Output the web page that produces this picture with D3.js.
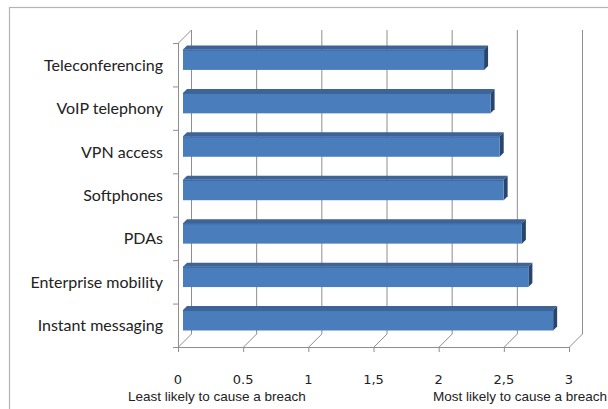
<!DOCTYPE html>
<html>
<head>
<meta charset="utf-8">
<script src="https://cdn.jsdelivr.net/npm/d3@7/dist/d3.min.js"></script>
<style>
  html, body { margin: 0; padding: 0; background: #fff; }
  svg { display: block; }
</style>
</head>
<body>
<svg id="chart" width="608" height="409"></svg>
<script>
// ---- data ----
const categories = ["Teleconferencing", "VoIP telephony", "VPN access", "Softphones", "PDAs", "Enterprise mobility", "Instant messaging"];
const values = [2.31, 2.36, 2.43, 2.46, 2.60, 2.65, 2.84];
const tickValues = [0, 0.5, 1, 1.5, 2, 2.5, 3];
const tickLabels = ["0", "0.5", "1", "1,5", "2", "2,5", "3"];
const axisNotes = ["Least likely to cause a breach", "Most likely to cause a breach"];

// ---- layout ----
const svg = d3.select("#chart");
const ox = 178, oy = 347;      // front-bottom-left corner of plot
const plotW = 391, plotH = 304;
const depth = 13;              // 3D depth offset (x right, y up)

const x = d3.scaleLinear().domain([0, 3]).range([0, plotW]);
const y = d3.scaleBand().domain(categories).range([oy - plotH, oy]).paddingInner(0).paddingOuter(0);

// chart border
svg.append("rect").attr("x", 9.5).attr("y", 7.5).attr("width", 640).attr("height", 440)
  .attr("fill", "#fff").attr("stroke", "#b4b4b4").attr("stroke-width", 1.2);

const gridColor = "#8e8e8e";
const g = svg.append("g");

// back wall vertical gridlines
g.selectAll("line.grid").data(tickValues).join("line")
  .attr("class", "grid")
  .attr("x1", d => ox + depth + x(d) + 0.5).attr("x2", d => ox + depth + x(d) + 0.5)
  .attr("y1", oy - plotH - depth).attr("y2", oy - depth)
  .attr("stroke", gridColor).attr("stroke-width", 1);

// floor diagonals
g.selectAll("line.floor").data(tickValues).join("line")
  .attr("x1", d => ox + x(d) + 0.5).attr("y1", oy)
  .attr("x2", d => ox + depth + x(d) + 0.5).attr("y2", oy - depth)
  .attr("stroke", gridColor).attr("stroke-width", 1);

// left wall: front vertical + top diagonal
g.append("line").attr("x1", ox + 0.5).attr("x2", ox + 0.5).attr("y1", oy - plotH).attr("y2", oy)
  .attr("stroke", gridColor);
g.append("line").attr("x1", ox + 0.5).attr("y1", oy - plotH)
  .attr("x2", ox + depth + 0.5).attr("y2", oy - plotH - depth).attr("stroke", gridColor);

// left ticks at band boundaries
const boundaries = categories.map(c => y(c)).concat([oy]);
g.selectAll("line.ltick").data(boundaries).join("line")
  .attr("x1", ox - 5).attr("x2", ox).attr("y1", d => d + 0.5).attr("y2", d => d + 0.5)
  .attr("stroke", gridColor);

// front (bottom) axis line + ticks
g.append("line").attr("x1", ox - 3).attr("x2", ox + plotW).attr("y1", oy + 0.5).attr("y2", oy + 0.5)
  .attr("stroke", gridColor);
g.selectAll("line.btick").data(tickValues).join("line")
  .attr("x1", d => ox + x(d) + 0.5).attr("x2", d => ox + x(d) + 0.5)
  .attr("y1", oy).attr("y2", oy + 5).attr("stroke", gridColor);

// ---- bars (3D) ----
const barFront = 5, barDepth = 4;
const barH = y.bandwidth() * 0.47;
const bars = svg.append("g");
categories.forEach((c, i) => {
  const v = values[i];
  const cy = y(c) + y.bandwidth() / 2;
  const x0 = ox + barFront + x(0);
  const x1 = ox + barFront + x(v);
  const top = cy - barFront - barH / 2;
  const bot = top + barH;
  bars.append("path")
    .attr("d", `M${x0},${top} L${x0 + barDepth},${top - barDepth} L${x1 + barDepth},${top - barDepth} L${x1},${top} Z`)
    .attr("fill", "#3d6497");
  bars.append("path")
    .attr("d", `M${x1},${top} L${x1 + barDepth},${top - barDepth} L${x1 + barDepth},${bot - barDepth} L${x1},${bot} Z`)
    .attr("fill", "#27456e");
  bars.append("rect")
    .attr("x", x0).attr("y", top).attr("width", x1 - x0).attr("height", barH)
    .attr("fill", "#4a7dbb");
  bars.append("line")
    .attr("x1", x0).attr("x2", x1).attr("y1", top + 0.5).attr("y2", top + 0.5)
    .attr("stroke", "#3a659c").attr("stroke-width", 1);
});

// ---- category labels ----
svg.append("g").selectAll("text").data(categories).join("text")
  .attr("x", 163)
  .attr("y", d => y(d) + y.bandwidth() / 2 + 2)
  .attr("text-anchor", "end")
  .attr("dominant-baseline", "middle")
  .attr("font-family", "Lato, 'Open Sans', sans-serif")
  .attr("font-size", 16)
  .attr("fill", "#222")
  .text(d => d);

// ---- tick labels ----
svg.append("g").selectAll("text").data(tickValues).join("text")
  .attr("x", d => ox + x(d))
  .attr("y", 384)
  .attr("text-anchor", "middle")
  .attr("font-family", "'DejaVu Sans', Verdana, sans-serif")
  .attr("font-size", 13)
  .attr("fill", "#222")
  .text((d, i) => tickLabels[i]);

// ---- axis notes ----
svg.append("text").attr("x", 128).attr("y", 401)
  .attr("font-family", "'Liberation Sans', Arial, sans-serif").attr("font-size", 13.5)
  .attr("fill", "#222").text(axisNotes[0]);
svg.append("text").attr("x", 433).attr("y", 401)
  .attr("font-family", "'Liberation Sans', Arial, sans-serif").attr("font-size", 13.5)
  .attr("fill", "#222").text(axisNotes[1]);
</script>
</body>
</html>
